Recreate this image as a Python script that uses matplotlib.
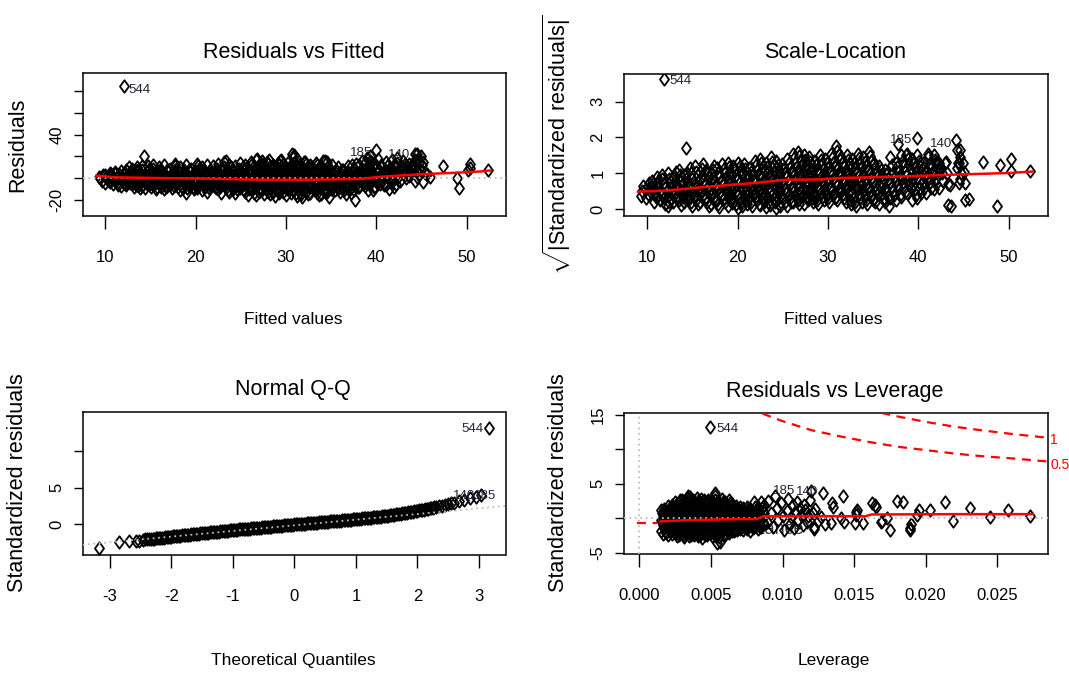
import matplotlib
matplotlib.use("Agg")
import matplotlib.pyplot as plt
from matplotlib import font_manager
from matplotlib.path import Path


def pick(*names):
    for n in names:
        try:
            font_manager.findfont(n, fallback_to_default=False)
            return n
        except Exception:
            pass
    return "DejaVu Sans"


NARROW = pick("Liberation Sans Narrow", "Liberation Sans")
WIDE = pick("Liberation Sans", "DejaVu Sans")
plt.rcParams["mathtext.fontset"] = "custom"
plt.rcParams["mathtext.rm"] = WIDE

# ---------------- Residuals vs Fitted ----------------
fit_cols = [9.3, 9.9, 10.5, 11.1, 11.7, 12.3, 12.9, 13.5, 14.1, 14.7, 15.3, 15.9,
            16.5, 17.1, 17.7, 18.3, 18.9, 19.5, 20.1, 20.7, 21.3, 21.9, 22.5, 23.1,
            23.7, 24.3, 24.9, 25.5, 26.1, 26.7, 27.3, 27.9, 28.5, 29.1, 29.7, 30.3,
            30.9, 31.5, 32.1, 32.7, 33.3, 33.9, 34.5, 35.1, 35.7, 36.3, 36.9, 37.5,
            38.1, 38.7, 39.3, 39.9, 40.5, 41.1, 41.7, 42.3, 43.0, 43.6, 44.3, 44.9, 45.6]
rvf_res = [
    [1, -2], [3, -1, -4], [5, 0, -3, -5], [6, 2, -2, -6, 4], [7, 3, -1, -4, -7],
    [8, 4, 0, -3, -6, 10], [9, 5, 1, -2, -5, -8], [10, 6, 2, -2, -5, -9, 7],
    [8, 4, 0, -3, -7, -9, 11], [11, 7, 3, -1, -4, -8], [9, 5, 1, -2, -6, -10, 12],
    [10, 6, 2, -1, -5, -8], [12, 8, 4, 0, -3, -7, -10], [9, 5, 1, -2, -6, -9],
    [11, 7, 3, -1, -4, -8, 13], [10, 6, 2, -2, -5, -9, -11], [12, 8, 4, 0, -3, -7, -13],
    [9, 5, 1, -3, -6, -10], [13, 9, 5, 1, -2, -6, -9], [10, 6, 2, -1, -5, -8, -11],
    [12, 8, 4, 0, -4, -7, -12], [11, 7, 3, -1, -5, -9], [13, 9, 5, 1, -3, -6, -10, -13],
    [10, 6, 2, -2, -5, -9, 15], [12, 8, 4, 0, -4, -8, -12], [11, 7, 3, -1, -5, -10, -13],
    [14, 10, 6, 2, -2, -6, -9], [12, 8, 4, 0, -4, -8, -12, -15],
    [15, 11, 7, 3, -1, -5, -9, -13], [17, 12, 8, 4, 0, -4, -8, -12, -15],
    [13, 9, 5, 1, -3, -7, -11, -14, 16], [15, 11, 7, 3, -1, -5, -10, -14],
    [12, 8, 4, 0, -4, -8, -12, -16], [14, 10, 6, 2, -2, -6, -11, 17],
    [13, 9, 5, 1, -3, -7, -12, -15], [16, 12, 8, 4, 0, -4, -9, -13],
    [21, 18, 14, 10, 6, 2, -2, -6, -11, -16], [13, 9, 5, 1, -3, -8, -12, -17],
    [15, 11, 7, 3, -1, -5, -10, -14], [12, 8, 4, 0, -4, -9, -13],
    [14, 10, 6, 2, -2, -7, -11, -15], [11, 7, 3, -1, -5, -10, -14],
    [15, 9, 5, 1, -3, -8, -12, -17], [12, 6, 2, -2, -6, -11], [10, 6, 2, -2, -7, -12],
    [8, 4, 0, -4, -9, -14], [11, 5, 1, -3, -8, -13], [9, 3, -2, -6, -11, 13],
    [12, 6, 2, -3, -8, 16], [14, 8, 3, -2, -7, 19], [16, 10, 5, 0, -5, -11, 20],
    [13, 7, 2, -3, -8, 18], [11, 6, 1, -4], [15, 9, 4, -1, -6, -10],
    [17, 12, 7, 2, -3, -8], [14, 9, 4, -2, 19], [16, 11, 5, 0], [13, 8, 2],
    [22, 18, 10, 4, -2], [20, 15, 8, -3], [4, 1]]
rvf_res2 = [
    [0, 3], [1, -2], [2, -1, 4], [0, 4, -4], [1, 5, -2, -5], [2, 6, -1, -4],
    [3, 7, -3, -6], [0, 4, 8, -3, -7], [2, 6, -1, -5], [1, 5, 9, -2, -6],
    [3, 7, -4, -8], [0, 4, 8, -3, -6], [2, 6, -1, -5, -8], [3, 7, -4, -7],
    [1, 5, 9, -2, -6], [4, 8, 0, -3, -7], [2, 6, -1, -5, -9], [3, 7, -1, -4, -8],
    [3, 7, 11, -4, -8], [0, 4, 8, -3, -6], [2, 6, -2, -5, -9], [5, 9, 1, -3, -7],
    [3, 7, -1, -4, -8], [4, 8, 0, -3, -7, -11], [2, 6, 10, -2, -6, -10],
    [5, 9, 1, -3, -7], [4, 8, 0, -4, -7, -11], [2, 6, 10, -2, -6, -10],
    [5, 9, 13, 1, -3, -7, -11], [2, 6, 10, -2, -6, -10], [3, 7, 11, -1, -5, -9],
    [5, 9, 13, 1, -3, -8, -12], [2, 6, 10, -2, -6, -10], [4, 8, 12, 0, -4, -9, -13],
    [3, 7, 11, -1, -5, -10], [2, 6, 10, -2, -7, -11], [4, 8, 12, 0, -4, -8, -13],
    [3, 7, 11, -1, -6, -10, -14], [5, 9, 13, 1, -3, -8, -12], [2, 6, 10, -2, -6, -11],
    [4, 8, 12, 0, -5, -9, -13], [1, 5, 9, -3, -7, -12], [3, 7, 11, -1, -6, -10],
    [4, 8, 0, -4, -8], [4, 8, 0, -4, -9], [2, 6, -2, -6, -11], [3, 7, -1, -5, -10],
    [1, 5, -4, -8], [4, 8, 0, -5], [6, 1, -4, 11], [8, 3, -2, -8], [5, 0, 10, -5],
    [3, 8, -2], [6, 1, 12], [5, 10, 0, -5], [6, 11, 1], [3, 8, 13], [5, 11],
    [7, 14, 1], [12, 5], []]
rvf_extra_x = [12.0, 14.3, 23.3, 26.8, 28.1, 29.3, 30.7, 30.8, 32.0, 34.1, 34.3, 37.3,
               37.6, 39.1, 39.4, 39.6, 40.0, 40.5, 40.8, 43.3, 43.7, 44.0, 44.5, 44.3,
               47.4, 48.9, 49.1, 50.4, 50.4, 50.2, 52.4]
rvf_extra_y = [84.5, 20.6, 15.5, 17.8, 16.5, 16.0, 22.0, 19.0, 15.0, 15.5, 15.5, 12.5,
               -19.4, -10.3, 15.0, 12.5, 26.0, 12.5, -5.7, 7.0, 10.0, 12.0, 22.5, 17.0,
               11.6, 0.4, -8.8, 13.4, 9.5, 8.0, 7.3]
rvf_smooth_x = [9.0, 11.0, 16.0, 21.8, 27.0, 33.0, 38.2, 40.5, 43.0, 46.3, 49.0, 51.5, 52.7]
rvf_smooth_y = [2.5, 1.0, 0.3, -0.3, -1.2, -1.2, -0.5, 1.5, 2.8, 4.3, 5.2, 6.3, 7.3]

# ---------------- Scale-Location ----------------
sl_vals = [
    [0.38, 0.65], [0.55, 0.72, 0.3], [0.62, 0.45, 0.8, 0.2], [0.7, 0.5, 0.9, 0.25, 0.35],
    [0.85, 0.6, 0.4, 0.15, 0.95], [1.0, 0.75, 0.55, 0.3, 0.1, 0.65],
    [0.9, 0.7, 0.5, 0.35, 0.2, 1.05], [1.1, 0.8, 0.6, 0.45, 0.25, 0.12],
    [0.95, 0.75, 0.55, 0.35, 0.2, 1.02], [1.15, 0.85, 0.65, 0.45, 0.3, 0.1],
    [1.2, 0.95, 0.7, 0.5, 0.35, 0.15], [1.05, 0.8, 0.6, 0.4, 0.2, 1.25],
    [1.1, 0.9, 0.7, 0.5, 0.3, 0.1], [1.0, 0.75, 0.55, 0.35, 0.15, 1.2],
    [1.15, 0.9, 0.65, 0.45, 0.25, 0.05], [1.25, 1.0, 0.8, 0.6, 0.4, 0.2],
    [1.3, 1.05, 0.85, 0.6, 0.45, 0.25, 0.1], [1.2, 0.95, 0.7, 0.5, 0.3, 0.15],
    [1.3, 1.1, 0.85, 0.65, 0.45, 0.2, 0.02], [1.25, 1.0, 0.75, 0.55, 0.35, 0.15],
    [1.15, 0.95, 0.7, 0.5, 0.3, 0.1], [1.35, 1.1, 0.85, 0.65, 0.45, 0.25],
    [1.4, 1.2, 0.95, 0.75, 0.5, 0.3, 0.12], [1.3, 1.05, 0.8, 0.6, 0.4, 0.2, 0.05],
    [1.45, 1.2, 0.9, 0.7, 0.5, 0.3], [1.35, 1.1, 0.85, 0.65, 0.4, 0.15, 0.02],
    [1.25, 1.0, 0.8, 0.55, 0.35, 0.2], [1.4, 1.15, 0.95, 0.7, 0.5, 0.3, 0.1],
    [1.55, 1.3, 1.05, 0.85, 0.6, 0.4, 0.2], [1.6, 1.35, 1.1, 0.9, 0.7, 0.45, 0.25],
    [1.5, 1.25, 1.0, 0.8, 0.55, 0.35, 0.15], [1.45, 1.2, 0.95, 0.75, 0.5, 0.3],
    [1.35, 1.1, 0.9, 0.65, 0.45, 0.25], [1.5, 1.25, 1.0, 0.8, 0.55, 0.35],
    [1.4, 1.15, 0.95, 0.7, 0.5, 0.3], [1.55, 1.3, 1.05, 0.85, 0.6, 0.4],
    [1.75, 1.5, 1.25, 1.0, 0.8, 0.55, 0.35], [1.45, 1.2, 1.0, 0.75, 0.55, 0.3],
    [1.5, 1.25, 1.05, 0.8, 0.6, 0.25], [1.4, 1.15, 0.9, 0.7, 0.45, 0.2],
    [1.55, 1.3, 1.05, 0.8, 0.55, 0.3], [1.45, 1.2, 0.95, 0.7, 0.5, 0.25],
    [1.6, 1.35, 1.1, 0.85, 0.6, 0.35], [1.3, 1.05, 0.8, 0.55, 0.3],
    [1.2, 0.95, 0.7, 0.45, 0.15], [1.1, 0.85, 0.6, 0.35, 0.2], [1.45, 1.0, 0.75, 0.5, 0.3],
    [1.3, 1.05, 0.8, 0.55, 0.25], [1.5, 1.2, 0.9, 0.6, 0.35], [1.55, 1.25, 0.95, 0.7, 0.45],
    [1.4, 1.15, 0.85, 0.55, 0.25], [1.5, 1.2, 0.9, 0.6, 0.3], [1.3, 1.0, 0.75, 0.45],
    [1.45, 1.15, 0.9, 0.6], [1.5, 1.25, 1.0, 0.7, 0.55], [1.3, 1.0, 0.6], [1.3, 0.7],
    [0.1], [1.65, 1.45, 1.15, 0.85], [1.3, 0.72], [0.28]]
sl_vals2 = [
    [0.5], [0.42, 0.62], [0.55, 0.35, 0.7], [0.6, 0.42, 0.8], [0.72, 0.5, 0.3],
    [0.85, 0.45, 0.2], [0.8, 0.6, 0.42, 0.28], [0.95, 0.7, 0.52, 0.35],
    [0.85, 0.65, 0.45, 0.28], [1.0, 0.75, 0.55, 0.38, 0.2], [1.05, 0.82, 0.6, 0.42, 0.25],
    [0.92, 0.7, 0.5, 0.3, 1.12], [1.0, 0.8, 0.6, 0.4, 0.2], [0.88, 0.65, 0.45, 0.25, 1.1],
    [1.02, 0.78, 0.55, 0.35, 0.15], [1.12, 0.9, 0.7, 0.5, 0.3],
    [1.18, 0.95, 0.72, 0.52, 0.35, 0.18], [1.08, 0.82, 0.6, 0.4, 0.22],
    [1.2, 0.98, 0.75, 0.55, 0.32, 0.1], [1.12, 0.88, 0.65, 0.45, 0.25],
    [1.05, 0.82, 0.6, 0.4, 0.2], [1.22, 0.98, 0.75, 0.55, 0.35, 0.15],
    [1.3, 1.08, 0.85, 0.62, 0.4, 0.2], [1.18, 0.92, 0.7, 0.5, 0.3, 0.12],
    [1.32, 1.05, 0.8, 0.6, 0.4, 0.2], [1.22, 0.98, 0.75, 0.52, 0.28, 0.08],
    [1.12, 0.9, 0.68, 0.45, 0.28], [1.28, 1.05, 0.82, 0.6, 0.4, 0.2],
    [1.42, 1.18, 0.95, 0.72, 0.5, 0.3], [1.48, 1.22, 1.0, 0.8, 0.58, 0.35, 0.15],
    [1.38, 1.12, 0.9, 0.68, 0.45, 0.25], [1.32, 1.08, 0.85, 0.62, 0.4, 0.2],
    [1.22, 1.0, 0.78, 0.55, 0.35, 0.15], [1.38, 1.12, 0.9, 0.68, 0.45, 0.25],
    [1.28, 1.05, 0.82, 0.6, 0.4, 0.2], [1.42, 1.18, 0.95, 0.72, 0.5, 0.3],
    [1.62, 1.38, 1.12, 0.9, 0.68, 0.45, 0.25], [1.32, 1.1, 0.88, 0.65, 0.42, 0.2],
    [1.38, 1.15, 0.92, 0.7, 0.45, 0.15], [1.28, 1.02, 0.8, 0.58, 0.32, 0.1],
    [1.42, 1.18, 0.92, 0.68, 0.42, 0.2], [1.32, 1.08, 0.82, 0.6, 0.38, 0.15],
    [1.48, 1.22, 0.98, 0.72, 0.48, 0.25], [1.18, 0.92, 0.68, 0.42, 0.2],
    [1.08, 0.82, 0.58, 0.32], [0.98, 0.72, 0.48, 0.1], [1.22, 0.88, 0.62, 0.4],
    [1.18, 0.92, 0.68, 0.4], [1.35, 1.05, 0.75, 0.48], [1.4, 1.1, 0.82, 0.58],
    [1.28, 1.0, 0.7, 0.4], [1.35, 1.05, 0.75, 0.45], [1.15, 0.88, 0.6],
    [1.3, 1.02, 0.75], [1.38, 1.12, 0.85], [1.15, 0.8], [1.0], [], [1.3, 1.0], [1.05], []]
sl_extra_x = [11.9, 14.3, 39.8, 44.2, 44.6, 44.4, 43.3, 45.2, 47.2, 49.0, 48.7, 50.3,
              50.2, 52.3, 43.1, 43.5, 44.5, 42.0, 41.1, 37.8, 38.6]
sl_extra_y = [3.62, 1.70, 1.98, 1.93, 1.65, 1.3, 0.12, 0.26, 1.31, 1.23, 0.10, 1.40,
              1.07, 1.07, 1.32, 0.67, 0.73, 1.32, 1.55, 1.82, 1.5]
sl_smooth_x = [9.0, 12.2, 15.5, 18.8, 21.4, 23.4, 25.3, 29.1, 31.5, 39.1, 44.8, 50.1, 52.6]
sl_smooth_y = [0.49, 0.52, 0.6, 0.67, 0.72, 0.77, 0.82, 0.83, 0.87, 0.92, 0.97, 1.01, 1.05]

# ---------------- Normal Q-Q ----------------
qq_x = [-3.18, -2.85, -2.68, -2.58, -2.52, -2.46, -2.42, -2.39, -2.36, -2.33,
        -2.30, -2.25, -2.20, -2.15, -2.10, -2.05, -2.00, -1.95, -1.90, -1.85,
        -1.80, -1.75, -1.70, -1.65, -1.60, -1.55, -1.50, -1.45, -1.40, -1.35,
        -1.30, -1.25, -1.20, -1.15, -1.10, -1.05, -1.00, -0.95, -0.90, -0.85,
        -0.80, -0.75, -0.70, -0.65, -0.60, -0.55, -0.50, -0.45, -0.40, -0.35,
        -0.30, -0.25, -0.20, -0.15, -0.10, -0.05, 0.00, 0.05, 0.10, 0.15,
        0.20, 0.25, 0.30, 0.35, 0.40, 0.45, 0.50, 0.55, 0.60, 0.65,
        0.70, 0.75, 0.80, 0.85, 0.90, 0.95, 1.00, 1.05, 1.10, 1.15,
        1.20, 1.25, 1.30, 1.35, 1.40, 1.45, 1.50, 1.55, 1.60, 1.65,
        1.70, 1.75, 1.80, 1.85, 1.90, 1.95, 2.00, 2.05, 2.10, 2.15,
        2.20, 2.25, 2.30, 2.35, 2.40, 2.45, 2.50, 2.55, 2.60, 2.68,
        2.75, 2.85, 2.95, 3.03, 3.17]
qq_y = [-3.26, -2.36, -2.27, -2.25, -2.20, -2.08, -2.05, -2.02, -2.00, -1.98,
        -1.95, -1.91, -1.86, -1.82, -1.77, -1.73, -1.68, -1.63, -1.59, -1.54,
        -1.50, -1.45, -1.40, -1.36, -1.31, -1.27, -1.22, -1.18, -1.13, -1.09,
        -1.05, -1.00, -0.96, -0.91, -0.87, -0.82, -0.78, -0.74, -0.70, -0.67,
        -0.63, -0.59, -0.55, -0.51, -0.48, -0.44, -0.40, -0.36, -0.32, -0.28,
        -0.25, -0.21, -0.17, -0.13, -0.09, -0.06, -0.02, 0.02, 0.05, 0.09,
        0.12, 0.16, 0.19, 0.23, 0.26, 0.30, 0.33, 0.37, 0.40, 0.44,
        0.48, 0.51, 0.55, 0.59, 0.62, 0.66, 0.70, 0.74, 0.79, 0.83,
        0.88, 0.92, 0.97, 1.01, 1.06, 1.10, 1.15, 1.21, 1.28, 1.35,
        1.42, 1.49, 1.56, 1.63, 1.70, 1.78, 1.85, 1.93, 2.01, 2.09,
        2.18, 2.26, 2.35, 2.45, 2.55, 2.62, 2.75, 2.85, 2.95, 3.10,
        3.30, 3.55, 3.75, 3.95, 13.1]
qq_x2 = [-2.275, -2.225, -2.175, -2.125, -2.075, -2.025, -1.975, -1.925, -1.875, -1.825,
         -1.775, -1.725, -1.675, -1.625, -1.575, -1.525, -1.475, -1.425, -1.375, -1.325,
         -1.275, -1.225, -1.175, -1.125, -1.075, -1.025, -0.975, -0.925, -0.875, -0.825,
         -0.775, -0.725, -0.675, -0.625, -0.575, -0.525, -0.475, -0.425, -0.375, -0.325,
         -0.275, -0.225, -0.175, -0.125, -0.075, -0.025, 0.025, 0.075, 0.125, 0.175,
         0.225, 0.275, 0.325, 0.375, 0.425, 0.475, 0.525, 0.575, 0.625, 0.675,
         0.725, 0.775, 0.825, 0.875, 0.925, 0.975, 1.025, 1.075, 1.125, 1.175,
         1.225, 1.275, 1.325, 1.375, 1.425, 1.475, 1.525, 1.575, 1.625, 1.675,
         1.725, 1.775, 1.825, 1.875, 1.925, 1.975, 2.025, 2.075, 2.125, 2.175,
         2.225, 2.275]
qq_y2 = [-1.93, -1.885, -1.84, -1.795, -1.75, -1.705, -1.655, -1.61, -1.565, -1.52,
         -1.475, -1.425, -1.38, -1.335, -1.29, -1.245, -1.20, -1.155, -1.11, -1.07,
         -1.025, -0.98, -0.935, -0.89, -0.845, -0.80, -0.76, -0.72, -0.685, -0.65,
         -0.61, -0.57, -0.53, -0.495, -0.46, -0.42, -0.38, -0.34, -0.30, -0.265,
         -0.23, -0.19, -0.15, -0.11, -0.075, -0.04, 0.0, 0.035, 0.07, 0.105,
         0.14, 0.175, 0.21, 0.245, 0.28, 0.315, 0.35, 0.385, 0.42, 0.46,
         0.495, 0.53, 0.57, 0.605, 0.64, 0.68, 0.72, 0.765, 0.81, 0.855,
         0.90, 0.945, 0.99, 1.035, 1.08, 1.125, 1.18, 1.245, 1.315, 1.385,
         1.455, 1.525, 1.595, 1.665, 1.74, 1.815, 1.89, 1.97, 2.05, 2.135,
         2.22, 2.305]
qq_line_x = [-3.44, 3.43]
qq_line_y = [-2.78, 2.50]

# ---------------- Residuals vs Leverage ----------------
lev_cols = [0.00150, 0.00175, 0.00200, 0.00225, 0.00250, 0.00275, 0.00300, 0.00325,
            0.00350, 0.00375, 0.00400, 0.00425, 0.00450, 0.00475, 0.00500, 0.00525,
            0.00550, 0.00575, 0.00600, 0.00625, 0.00650, 0.00675, 0.00700, 0.00725,
            0.00750, 0.00775, 0.00800, 0.00825, 0.00850]
lev_vals = [
    [1.2, 0.5, -0.3, -1.0, -1.8, -2.3], [1.4, 0.8, 0.1, -0.6, -1.4, -2.1],
    [1.8, 1.0, 0.3, -0.4, -1.2, -1.9, -2.4], [2.0, 1.3, 0.6, -0.1, -0.8, -1.6, -2.3],
    [2.4, 1.6, 0.8, 0.0, -0.7, -1.5, -2.2, -2.6], [2.2, 1.4, 0.6, -0.2, -1.0, -1.8, -2.5],
    [2.7, 1.9, 1.1, 0.3, -0.5, -1.3, -2.1, -2.7], [2.5, 1.7, 0.9, 0.1, -0.7, -1.5, -2.3],
    [3.1, 2.2, 1.4, 0.6, -0.2, -1.0, -1.8, -2.5], [2.6, 1.8, 1.0, 0.2, -0.6, -1.4, -2.2],
    [3.0, 2.1, 1.3, 0.5, -0.3, -1.1, -1.9, -2.6], [2.4, 1.6, 0.8, 0.0, -0.8, -1.6, -2.4, -2.8],
    [2.7, 1.9, 1.1, 0.3, -0.5, -1.3, -2.1], [2.3, 1.5, 0.7, -0.1, -0.9, -1.7, -2.5],
    [2.6, 1.8, 1.0, 0.2, -0.6, -1.4, -2.2], [3.3, 2.2, 1.4, 0.6, -0.2, -1.0, -1.8, -2.6],
    [2.5, 1.7, 0.9, 0.1, -0.7, -1.5, -2.3, -3.4], [2.8, 2.0, 1.2, 0.4, -0.4, -1.2, -2.0],
    [2.3, 1.5, 0.7, -0.1, -0.9, -1.7, -2.4], [2.6, 1.8, 1.0, 0.2, -0.6, -1.4, -2.1],
    [2.1, 1.3, 0.5, -0.3, -1.1, -1.9], [1.8, 1.0, 0.2, -0.6, -1.4],
    [1.6, 0.8, 0.0, -0.8, -1.6], [1.5, 0.7, -0.1, -0.9, -1.7], [1.7, 0.9, 0.1, -0.7, -1.5],
    [1.4, 0.6, -0.2, -1.0, -1.8], [2.4, 1.2, 0.4, -0.4, -1.2], [1.6, 0.8, 0.0, -0.8, -1.6],
    [2.3, 1.1, 0.3, -0.5, -1.3]]
lev_vals2 = [
    [0.8, 0.1, -0.6, -1.4], [1.1, 0.4, -0.3, -1.0, -1.8], [1.4, 0.6, -0.1, -0.8, -1.6],
    [1.7, 1.0, 0.2, -0.5, -1.2, -2.0], [2.0, 1.2, 0.4, -0.3, -1.1, -1.9],
    [2.6, 1.8, 1.0, 0.2, -0.6, -1.4, -2.2], [2.3, 1.5, 0.7, -0.1, -0.9, -1.7, -2.4],
    [2.9, 2.1, 1.3, 0.5, -0.3, -1.1, -1.9, -2.6], [2.6, 1.8, 1.0, 0.2, -0.6, -1.4, -2.2],
    [2.2, 1.4, 0.6, -0.2, -1.0, -1.8, -2.5], [2.5, 1.7, 0.9, 0.1, -0.7, -1.5, -2.3],
    [2.8, 2.0, 1.2, 0.4, -0.4, -1.2, -2.0], [2.3, 1.5, 0.7, -0.1, -0.9, -1.7, -2.5],
    [2.7, 1.9, 1.1, 0.3, -0.5, -1.3, -2.1], [2.2, 1.4, 0.6, -0.2, -1.0, -1.8, -2.6],
    [2.6, 1.8, 1.0, 0.2, -0.6, -1.4, -2.2], [2.1, 1.3, 0.5, -0.3, -1.1, -1.9, -2.7],
    [2.4, 1.6, 0.8, 0.0, -0.8, -1.6, -2.4], [1.9, 1.1, 0.3, -0.5, -1.3, -2.0],
    [2.2, 1.4, 0.6, -0.2, -1.0, -1.8], [1.7, 0.9, 0.1, -0.7, -1.5],
    [1.4, 0.6, -0.2, -1.0, -1.7], [1.2, 0.4, -0.4, -1.2], [1.1, 0.3, -0.5, -1.3],
    [1.3, 0.5, -0.3, -1.1], [1.0, 0.2, -0.6, -1.4], [1.6, 0.8, 0.0, -0.8],
    [1.2, 0.4, -0.4, -1.2], [1.5, 0.7, -0.1, -0.9]]
lev_extra_x = [0.0087, 0.0089, 0.0090, 0.0092, 0.0093, 0.0095, 0.0096, 0.0097, 0.0099,
               0.0100, 0.0101, 0.0103, 0.0104, 0.0105, 0.0106, 0.0107, 0.0108, 0.0109,
               0.0110, 0.0111, 0.0112, 0.0113, 0.0114, 0.0115, 0.0116, 0.0117, 0.0118,
               0.0119, 0.0121, 0.0122, 0.0123, 0.0125, 0.0127, 0.0130, 0.01352, 0.0134,
               0.0141, 0.0143, 0.01505, 0.01515, 0.01686, 0.0165, 0.0189, 0.0122,
               0.01197, 0.01285, 0.01343, 0.01424, 0.01518, 0.0151, 0.01565, 0.01622,
               0.01645, 0.01692, 0.01728, 0.0175, 0.01797, 0.01844, 0.0189, 0.0190,
               0.01937, 0.0195, 0.0203, 0.02135, 0.02193, 0.0231, 0.0245, 0.02577,
               0.02729, 0.00491, 0.0034, 0.00528, 0.0054]
lev_extra_y = [1.9, -0.6, 2.5, 0.7, -1.3, 3.3, 1.5, -0.2, 2.2, 0.4, -1.7, 1.1, 2.8, -0.8,
               0.2, 1.9, -1.4, 0.9, 2.4, -0.3, 1.5, 0.5, -1.0, 2.0, 1.2, -0.6, 0.3, 2.6,
               0.8, -1.6, 1.4, -0.4, 0.2, -0.9, 1.6, -0.7, 0.1, -0.6, -0.7, 0.9, -0.5,
               1.6, -1.75, -1.2, 3.9, 3.7, 2.24, 3.2, 1.27, 0.5, -0.67, 2.24, 1.99,
               -0.44, 0.05, -1.65, 2.47, 2.33, -1.4, -0.9, 0.54, 1.27, 1.27, 2.33,
               -0.44, 1.5, 0.2, 1.27, 0.39, 13.3, 3.3, 3.6, -3.6]
lev_smooth_x = [0.0015, 0.003, 0.006, 0.0082, 0.0087, 0.012, 0.0158, 0.0162, 0.022, 0.0275]
lev_smooth_y = [-0.45, -0.3, -0.15, -0.1, 0.3, 0.3, 0.3, 0.55, 0.6, 0.6]
cook05_x = [0.0086, 0.010, 0.012, 0.014, 0.016, 0.018, 0.020, 0.022, 0.024, 0.026, 0.0285]
cook05_y = [15.2, 14.1, 12.8, 11.9, 11.1, 10.4, 9.9, 9.4, 9.0, 8.7, 8.25]
cook1_x = [0.0169, 0.018, 0.020, 0.022, 0.024, 0.026, 0.0285]
cook1_y = [15.3, 14.8, 14.0, 13.3, 12.75, 12.25, 11.7]


def flatten(cols, vals, half, base=0.0):
    # every other value of a column sits half a column step to the right
    xs, ys = [], []
    for c, vs in zip(cols, vals):
        for i, v in enumerate(vs):
            xs.append(c + base + (half if i % 2 else 0))
            ys.append(v)
    return xs, ys


W, H = 1069, 675
fig = plt.figure(figsize=(W / 100, H / 100), dpi=100)


def box(x0, y0, x1, y1):
    return [x0 / W, 1 - y1 / H, (x1 - x0) / W, (y1 - y0) / H]


def ftext(px, py, s, **kw):
    fig.text(px / W, 1 - py / H, s, ha="center", va="center", **kw)


diamond = Path([(0, 1), (0.72, 0), (0, -1), (-0.72, 0), (0, 1)],
               [Path.MOVETO, Path.LINETO, Path.LINETO, Path.LINETO, Path.CLOSEPOLY])
pt_style = dict(ls="none", marker=diamond, ms=9, mfc="none", mec="black", mew=1.3, zorder=3)
grey_dot = dict(color="#BEBEBE", ls=(0, (1, 2)), lw=1.3, zorder=4)
lab_style = dict(fontfamily=NARROW, fontsize=9.5, color="#222233", va="center", zorder=5)


def style(ax, xt, xtl, yt, ytl, xlim, ylim):
    ax.set_xlim(xlim)
    ax.set_ylim(ylim)
    ax.set_xticks(xt)
    ax.set_xticklabels(xtl, fontfamily=NARROW, fontsize=12)
    ax.set_yticks(yt)
    ax.set_yticklabels(ytl, fontfamily=NARROW, fontsize=12, rotation=90, va="center")
    ax.tick_params(axis="x", length=9.5, width=1, pad=15)
    ax.tick_params(axis="y", length=6.2, width=1, pad=7)
    for s in ax.spines.values():
        s.set_linewidth(1.1)


# panel 1
ax1 = fig.add_axes(box(82.6, 72.7, 505.5, 216))
x, y = flatten(fit_cols, rvf_res, 0.3)
ax1.plot(x, y, **pt_style)
x, y = flatten(fit_cols, rvf_res2, 0.3, 0.15)
ax1.plot(x, y, **pt_style)
ax1.plot(rvf_extra_x, rvf_extra_y, **pt_style)
ax1.axhline(0, **grey_dot)
ax1.plot(rvf_smooth_x, rvf_smooth_y, color="red", lw=1.8, zorder=4)
ax1.text(12.5, 81, "544", ha="left", **lab_style)
ax1.text(39.5, 23.2, "185", ha="right", **lab_style)
ax1.text(43.7, 21.6, "140", ha="right", **lab_style)
style(ax1, [10, 20, 30, 40, 50], ["10", "20", "30", "40", "50"],
      [-20, 0, 20, 40, 60, 80], ["-20", "", "", "40", "", ""], (7.47, 54.3), (-34.3, 96.4))

# panel 2
ax2 = fig.add_axes(box(623.7, 74, 1047.6, 216))
x, y = flatten(fit_cols, sl_vals, 0.3)
ax2.plot(x, y, **pt_style)
x, y = flatten(fit_cols, sl_vals2, 0.3, 0.15)
ax2.plot(x, y, **pt_style)
ax2.plot(sl_extra_x, sl_extra_y, **pt_style)
ax2.plot(sl_smooth_x, sl_smooth_y, color="red", lw=1.8, zorder=4)
ax2.text(12.5, 3.58, "544", ha="left", **lab_style)
ax2.text(39.3, 1.93, "185", ha="right", **lab_style)
ax2.text(43.7, 1.82, "140", ha="right", **lab_style)
style(ax2, [10, 20, 30, 40, 50], ["10", "20", "30", "40", "50"],
      [0, 1, 2, 3], ["0", "1", "2", "3"], (7.41, 54.3), (-0.19, 3.77))

# panel 3
ax3 = fig.add_axes(box(82.6, 411.7, 505.5, 555))
ax3.plot(qq_x, qq_y, **pt_style)
ax3.plot(qq_x2, qq_y2, **pt_style)
ax3.plot(qq_line_x, qq_line_y, **grey_dot)
ax3.text(3.07, 12.9, "544", ha="right", **lab_style)
ax3.text(2.93, 3.8, "140", ha="right", **lab_style)
ax3.text(3.28, 3.8, "185", ha="right", **lab_style)
style(ax3, [-3, -2, -1, 0, 1, 2, 3], ["-3", "-2", "-1", "0", "1", "2", "3"],
      [0, 5, 10], ["0", "5", ""], (-3.44, 3.43), (-4.17, 15.3))

# panel 4
ax4 = fig.add_axes(box(623.7, 412.7, 1047.6, 554.3))
ax4.axhline(0, **grey_dot)
ax4.axvline(0, **grey_dot)
ax4.text(0.0026, -1.7, "Cook's distance", ha="left", va="center", fontfamily=NARROW,
         fontsize=13, color="#333344", zorder=2)
ax4.plot([-0.0002, 0.0012], [-0.7, -0.7], color="red", ls=(0, (4, 3)), lw=1.6, zorder=2)
x, y = flatten(lev_cols, lev_vals, 0.000125)
ax4.plot(x, y, **pt_style)
x, y = flatten(lev_cols, lev_vals2, 0.000125, 0.00006)
ax4.plot(x, y, **pt_style)
ax4.plot(lev_extra_x, lev_extra_y, **pt_style)
ax4.plot(lev_smooth_x, lev_smooth_y, color="red", lw=1.8, zorder=4)
ax4.plot(cook05_x, cook05_y, color="red", ls=(0, (4, 3)), lw=1.6, zorder=4)
ax4.plot(cook1_x, cook1_y, color="red", ls=(0, (4, 3)), lw=1.6, zorder=4)
ax4.text(0.00535, 13.0, "544", ha="left", **lab_style)
ax4.text(0.01087, 3.93, "185", ha="right", **lab_style)
ax4.text(0.01247, 3.8, "140", ha="right", **lab_style)
ax4.text(0.0287, 11.4, "1", ha="left", va="center", fontfamily=NARROW, fontsize=10,
         color="red", clip_on=False)
ax4.text(0.0287, 7.8, "0.5", ha="left", va="center", fontfamily=NARROW, fontsize=10,
         color="red", clip_on=False)
style(ax4, [0, 0.005, 0.010, 0.015, 0.020, 0.025],
      ["0.000", "0.005", "0.010", "0.015", "0.020", "0.025"],
      [-5, 0, 5, 10, 15], ["-5", "", "5", "", "15"], (-0.0011, 0.02852), (-5.23, 15.33))

# titles and axis labels
title_kw = dict(fontfamily=NARROW, fontsize=15.5)
ftext(294, 52, "Residuals vs Fitted", **title_kw)
ftext(835, 52, "Scale-Location", **title_kw)
ftext(293, 390, "Normal Q-Q", **title_kw)
ftext(835, 392, "Residuals vs Leverage", **title_kw)

xl_kw = dict(fontfamily=NARROW, fontsize=12.5)
ftext(293, 320, "Fitted values", **xl_kw)
ftext(833, 320, "Fitted values", **xl_kw)
ftext(293, 661, "Theoretical Quantiles", **xl_kw)
ftext(834, 661, "Leverage", **xl_kw)

yl_kw = dict(fontfamily=WIDE, fontsize=15.5, rotation=90)
ftext(18, 145, "Residuals", **yl_kw)
ftext(557, 145, r"$\sqrt{|\mathrm{Standardized\ residuals}|}$", **yl_kw)
ftext(18, 483, "Standardized residuals", **yl_kw)
ftext(559, 483, "Standardized residuals", **yl_kw)

fig.savefig("out.png", dpi=100)
